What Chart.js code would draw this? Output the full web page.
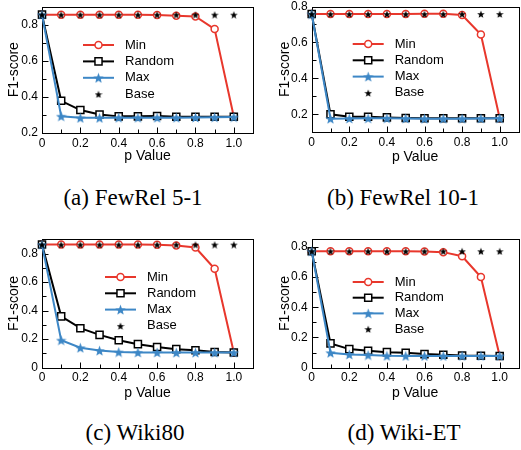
<!DOCTYPE html>
<html>
<head>
<meta charset="utf-8">
<script src="https://cdn.jsdelivr.net/npm/chart.js@4.4.1/dist/chart.umd.min.js"></script>
<style>
html, body { margin: 0; padding: 0; background: #fff; overflow: hidden; width: 521px; height: 450px; }
canvas { position: absolute; }
.cap { position: absolute; width: 240px; text-align: center; font-family: "Liberation Serif", "Times New Roman", serif; font-size: 23px; line-height: 26px; color: #000; }
</style>
</head>
<body>
<canvas id="chartA" width="260" height="175" style="left:0;top:0"></canvas>
<canvas id="chartB" width="265" height="175" style="left:260px;top:0"></canvas>
<canvas id="chartC" width="260" height="175" style="left:0;top:230px"></canvas>
<canvas id="chartD" width="265" height="175" style="left:260px;top:230px"></canvas>
<div class="cap" style="left:13px;top:185px">(a) FewRel 5-1</div>
<div class="cap" style="left:283px;top:185px">(b) FewRel 10-1</div>
<div class="cap" style="left:15px;top:420px">(c) Wiki80</div>
<div class="cap" style="left:284px;top:420px">(d) Wiki-ET</div>
<script>
// x positions shared by every panel
const pValues = [0, 0.1, 0.2, 0.3, 0.4, 0.5, 0.6, 0.7, 0.8, 0.9, 1.0];
const xTicks = [0, 0.2, 0.4, 0.6, 0.8, 1.0];

// (a) FewRel 5-1
const fewrel51Min    = [0.855, 0.855, 0.855, 0.855, 0.854, 0.854, 0.853, 0.849, 0.845, 0.775, 0.290];
const fewrel51Random = [0.855, 0.378, 0.327, 0.302, 0.292, 0.292, 0.294, 0.290, 0.290, 0.290, 0.290];
const fewrel51Max    = [0.855, 0.293, 0.284, 0.284, 0.285, 0.285, 0.285, 0.285, 0.286, 0.287, 0.288];
const fewrel51Base   = [0.855, 0.855, 0.855, 0.855, 0.855, 0.855, 0.855, 0.855, 0.855, 0.855, 0.855];
const yTicksA = [0.2, 0.4, 0.6, 0.8];

// (b) FewRel 10-1
const fewrel101Min    = [0.758, 0.758, 0.758, 0.758, 0.758, 0.758, 0.759, 0.759, 0.753, 0.644, 0.178];
const fewrel101Random = [0.758, 0.200, 0.187, 0.187, 0.183, 0.180, 0.178, 0.178, 0.178, 0.178, 0.178];
const fewrel101Max    = [0.758, 0.176, 0.177, 0.178, 0.178, 0.177, 0.176, 0.176, 0.176, 0.177, 0.178];
const fewrel101Base   = [0.758, 0.758, 0.758, 0.758, 0.758, 0.758, 0.758, 0.758, 0.758, 0.758, 0.758];
const yTicksB = [0.2, 0.4, 0.6, 0.8];

// (c) Wiki80
const wiki80Min    = [0.863, 0.863, 0.863, 0.863, 0.863, 0.863, 0.862, 0.856, 0.842, 0.693, 0.106];
const wiki80Random = [0.863, 0.360, 0.277, 0.230, 0.193, 0.165, 0.145, 0.130, 0.122, 0.110, 0.106];
const wiki80Max    = [0.863, 0.193, 0.140, 0.120, 0.110, 0.107, 0.107, 0.106, 0.106, 0.106, 0.106];
const wiki80Base   = [0.863, 0.863, 0.863, 0.863, 0.863, 0.863, 0.863, 0.863, 0.863, 0.863, 0.863];
const yTicksC = [0, 0.2, 0.4, 0.6, 0.8];

// (d) Wiki-ET
const wikiEtMin    = [0.771, 0.771, 0.771, 0.771, 0.771, 0.771, 0.770, 0.765, 0.738, 0.600, 0.077];
const wikiEtRandom = [0.771, 0.161, 0.123, 0.112, 0.103, 0.099, 0.090, 0.086, 0.081, 0.079, 0.077];
const wikiEtMax    = [0.771, 0.099, 0.088, 0.084, 0.079, 0.078, 0.078, 0.078, 0.078, 0.078, 0.078];
const wikiEtBase   = [0.771, 0.771, 0.771, 0.771, 0.771, 0.771, 0.771, 0.771, 0.771, 0.771, 0.771];
const yTicksD = [0, 0.2, 0.4, 0.6, 0.8];

const RED = '#e8372c';
const BLUE = '#3d87c6';
const FONT = '"Liberation Sans", Arial, Helvetica, sans-serif';

Chart.defaults.font.family = FONT;
Chart.defaults.color = '#000';

// filled five-point star used as a point style
function starImage(size, color) {
    const c = document.createElement('canvas');
    c.width = size;
    c.height = size;
    const g = c.getContext('2d');
    const R = size / 2, r = R * 0.42;
    g.beginPath();
    for (let i = 0; i < 10; i++) {
        const a = -Math.PI / 2 + i * Math.PI / 5;
        const rad = i % 2 ? r : R;
        g.lineTo(R + rad * Math.cos(a), R + 0.6 + rad * Math.sin(a));
    }
    g.closePath();
    g.fillStyle = color;
    g.fill();
    return c;
}
const starBlue = starImage(11, BLUE);
const starBlack = starImage(8, '#000');

const fmt = v => (v === 0 ? '0' : v.toFixed(1));
const toPoints = vals => pValues.map((p, i) => ({ x: p, y: vals[i] }));

// box round the plot and short inward ticks every 0.1
const frameTicks = {
    id: 'frameTicks',
    beforeDatasetsDraw(chart) {
        const { ctx, chartArea: a, scales: { x, y } } = chart;
        const L = Math.round(a.left) + 0.5, R = Math.round(a.right) + 0.5;
        const T = Math.round(a.top) + 0.5, B = Math.round(a.bottom) + 0.5;
        ctx.save();
        ctx.strokeStyle = '#000';
        ctx.lineWidth = 1;
        ctx.strokeRect(L, T, R - L, B - T);
        ctx.beginPath();
        for (let k = 1; k <= 10; k++) {
            const px = Math.round(x.getPixelForValue(k / 10)) + 0.5;
            ctx.moveTo(px, B);
            ctx.lineTo(px, B - (k % 2 === 0 ? 6 : 4));
        }
        for (let k = 0; k / 10 < y.max - 1e-6; k++) {
            if (k / 10 <= y.min + 1e-6) continue;
            const py = Math.round(y.getPixelForValue(k / 10)) + 0.5;
            ctx.moveTo(L, py);
            ctx.lineTo(L + (k % 2 === 0 ? 6 : 4), py);
        }
        ctx.stroke();
        ctx.restore();
    }
};

// legend drawn inside the plot area
const insideLegend = {
    id: 'insideLegend',
    afterDatasetsDraw(chart, args, opts) {
        const ctx = chart.ctx;
        ctx.save();
        chart.data.datasets.forEach((ds, i) => {
            const y = opts.y + i * opts.gap;
            if (ds.showLine !== false) {
                ctx.beginPath();
                ctx.moveTo(opts.x, y);
                ctx.lineTo(opts.x + 31, y);
                ctx.strokeStyle = ds.borderColor;
                ctx.lineWidth = ds.borderWidth;
                ctx.stroke();
            }
            ctx.fillStyle = ds.backgroundColor;
            ctx.strokeStyle = ds.borderColor;
            ctx.lineWidth = ds.pointBorderWidth || 1;
            Chart.helpers.drawPoint(ctx, {
                pointStyle: ds.pointStyle,
                radius: ds.pointRadius,
                borderWidth: ds.pointBorderWidth || 0,
                rotation: 0
            }, opts.x + 15.5, y);
            ctx.fillStyle = '#000';
            ctx.font = '13px ' + FONT;
            ctx.textBaseline = 'middle';
            ctx.textAlign = 'left';
            ctx.fillText(ds.label, opts.x + 42, y);
        });
        ctx.restore();
    }
};

function makeChart(id, series, yMin, yMax, yTicks, frame, legendPos) {
    const datasets = [
        { label: 'Min', data: toPoints(series[0]), borderColor: RED, backgroundColor: '#fff',
          borderWidth: 2, pointStyle: 'circle', pointRadius: 3.5, pointBorderWidth: 1.5, order: 4 },
        { label: 'Random', data: toPoints(series[1]), borderColor: '#000', backgroundColor: '#fff',
          borderWidth: 2, pointStyle: 'rect', pointRadius: 5, pointBorderWidth: 1.5, order: 3 },
        { label: 'Max', data: toPoints(series[2]), borderColor: BLUE, backgroundColor: BLUE,
          borderWidth: 2, pointStyle: starBlue, pointRadius: 5, pointBorderWidth: 0, order: 2 },
        { label: 'Base', data: toPoints(series[3]), borderColor: '#000', backgroundColor: '#000',
          showLine: false, pointStyle: starBlack, pointRadius: 4, pointBorderWidth: 0, order: 1 }
    ];
    datasets.forEach(d => { d.tension = 0; d.clip = false; });

    return new Chart(document.getElementById(id), {
        type: 'line',
        data: { datasets },
        plugins: [frameTicks, insideLegend],
        options: {
            responsive: false,
            animation: false,
            events: [],
            layout: { padding: { left: 0, top: frame.top, right: frame.w - frame.right, bottom: 0 } },
            plugins: {
                legend: { display: false },
                tooltip: { enabled: false },
                insideLegend: legendPos
            },
            scales: {
                x: {
                    type: 'linear', min: 0, max: 1.1,
                    afterBuildTicks: s => { s.ticks = xTicks.map(v => ({ value: v })); },
                    afterFit: s => { s.height = frame.h - frame.bottom; s.paddingLeft = 0; s.paddingRight = 0; },
                    ticks: { callback: fmt, font: { size: 12 }, color: '#000', padding: 3, maxRotation: 0, autoSkip: false },
                    grid: { display: false, drawTicks: false },
                    border: { display: false },
                    title: { display: true, text: 'p Value', font: { size: 14 }, color: '#000',
                             padding: { top: 0, bottom: frame.xTitle } }
                },
                y: {
                    type: 'linear', min: yMin, max: yMax,
                    afterBuildTicks: s => { s.ticks = yTicks.map(v => ({ value: v })); },
                    afterFit: s => { s.width = frame.left; s.paddingTop = 0; s.paddingBottom = 0; },
                    ticks: { callback: fmt, font: { size: 12 }, color: '#000', padding: 4, autoSkip: false },
                    grid: { display: false, drawTicks: false },
                    border: { display: false },
                    title: { display: true, text: 'F1-score', font: { size: 14 }, color: '#000',
                             padding: { top: frame.yTitle, bottom: 0 } }
                }
            }
        }
    });
}

makeChart('chartA', [fewrel51Min, fewrel51Random, fewrel51Max, fewrel51Base], 0.2, 0.9, yTicksA,
    { w: 260, h: 175, left: 42, right: 253, top: 3, bottom: 133, xTitle: 10.6, yTitle: 5.6 },
    { x: 83, y: 45, gap: 16.4 });

makeChart('chartB', [fewrel101Min, fewrel101Random, fewrel101Max, fewrel101Base], 0.1, 0.8, yTicksB,
    { w: 265, h: 175, left: 51.7, right: 261.7, top: 3.3, bottom: 132.3, xTitle: 9.9, yTitle: 16.6 },
    { x: 92.7, y: 44, gap: 16.3 });

makeChart('chartC', [wiki80Min, wiki80Random, wiki80Max, wiki80Base], 0, 0.9, yTicksC,
    { w: 260, h: 175, left: 42, right: 253, top: 9.3, bottom: 137.7, xTitle: 3.3, yTitle: 5.6 },
    { x: 105, y: 47, gap: 16.3 });

makeChart('chartD', [wikiEtMin, wikiEtRandom, wikiEtMax, wikiEtBase], 0, 0.85, yTicksD,
    { w: 265, h: 175, left: 51.7, right: 261.7, top: 9.3, bottom: 137.7, xTitle: 3.3, yTitle: 16.6 },
    { x: 92.7, y: 52, gap: 15.7 });
</script>
</body>
</html>
